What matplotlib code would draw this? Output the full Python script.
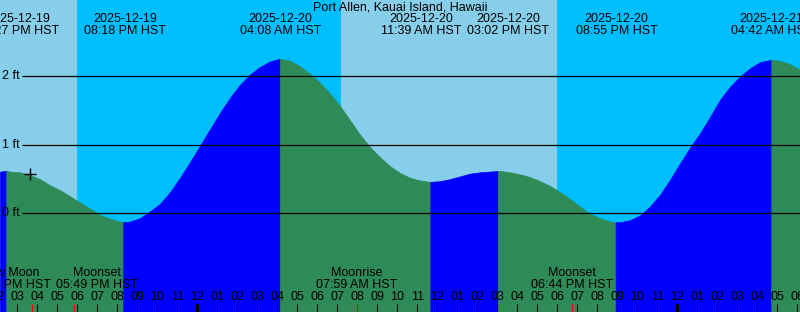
import numpy as np
import matplotlib
matplotlib.use("Agg")
import matplotlib.pyplot as plt
from matplotlib.transforms import blended_transform_factory

# hours are counted from 2025-12-20 00:00 HST
t_start = -9.865
t_end = 30.135

# tide height readings (ft), every half hour from 14:08 Dec 19
curve_ft = [
    0.61, 0.61, 0.60, 0.56, 0.50, 0.41, 0.34, 0.25, 0.16, 0.07,
    -0.02, -0.08, -0.12, -0.12, -0.07, 0.03, 0.14, 0.31, 0.52, 0.75,
    0.99, 1.23, 1.47, 1.69, 1.88, 2.03, 2.14, 2.22, 2.26, 2.23,
    2.15, 2.04, 1.91, 1.75, 1.57, 1.36, 1.15, 0.97, 0.82, 0.69,
    0.59, 0.52, 0.48, 0.46, 0.47, 0.50, 0.54, 0.58, 0.60, 0.61,
    0.62, 0.60, 0.57, 0.53, 0.47, 0.40, 0.31, 0.21, 0.10, -0.01,
    -0.07, -0.12, -0.13, -0.10, -0.03, 0.10, 0.27, 0.49, 0.73, 0.96,
    1.17, 1.41, 1.66, 1.85, 2.00, 2.12, 2.21, 2.24, 2.23, 2.18,
    2.10,
]
curve_t = t_start + 0.5 * np.arange(len(curve_ft))

# high / low tide events
event_t = [-9.55, -3.70, 4.133, 11.65, 15.033, 20.917, 28.70]
event_ft = [0.62, -0.13, 2.26, 0.46, 0.62, -0.13, 2.24]
event_date = ["2025-12-19", "2025-12-19", "2025-12-20", "2025-12-20",
              "2025-12-20", "2025-12-20", "2025-12-21"]
event_time = ["02:27 PM HST", "08:18 PM HST", "04:08 AM HST", "11:39 AM HST",
              "03:02 PM HST", "08:55 PM HST", "04:42 AM HST"]
event_shift = [0.585, 0.08, 0.03, -0.465, 0.5, 0.05, 0.0]

# moon events
moon_t = [-8.283, -6.183, 7.983, 18.733]
moon_name = ["New Moon", "Moonset", "Moonrise", "Moonset"]
moon_time = ["03:43 PM HST", "05:49 PM HST", "07:59 AM HST", "06:44 PM HST"]
moon_shift = [-1.08, 1.17, 0.0, 0.0]

# sunset / sunrise
sun_t = [-6.017, 7.183, 17.967]

now_t, now_ft = -8.365, 0.57

day_col = "#87CEEB"
night_col = "#00BFFF"
rise_col = "#0000FF"
fall_col = "#2E8B57"

plt.rcParams["font.family"] = ["Liberation Sans", "DejaVu Sans"]
fs = 9

fig = plt.figure(figsize=(8, 3.12), dpi=100)
ax = fig.add_axes([0, 0, 1, 1])
ax.set_xlim(t_start, t_end)
ax.set_ylim(-1.442, 3.118)
ax.axis("off")

H = 312.0
def yf(px):
    return 1 - px / H

xt = blended_transform_factory(ax.transData, ax.transAxes)

# day / night background
edges = [t_start] + sun_t + [t_end]
for i in range(len(edges) - 1):
    ax.axvspan(edges[i], edges[i + 1], color=day_col if i % 2 == 0 else night_col,
               lw=0, zorder=0)

# tide curve, coloured by rising / falling
t_all = np.concatenate([curve_t, event_t])
h_all = np.concatenate([curve_ft, event_ft])
order = np.argsort(t_all)
t_all, h_all = t_all[order], h_all[order]

bounds = [t_start] + event_t + [t_end]
for i in range(len(bounds) - 1):
    m = (t_all >= bounds[i]) & (t_all <= bounds[i + 1])
    col = rise_col if i % 2 == 0 else fall_col
    ax.fill_between(t_all[m], h_all[m], -1.442, color=col, lw=0.5,
                    edgecolor=col, zorder=1)

# grid lines and labels
yt = blended_transform_factory(ax.transAxes, ax.transData)
for lev in [0, 1, 2]:
    ax.hlines(lev, 22 / 800, 1, transform=yt, color="black", lw=0.9, zorder=2)
    ax.text(2 / 800, lev, f"{lev} ft", transform=yt, ha="left", va="center",
            fontsize=fs, zorder=3)

ax.plot([now_t], [now_ft], marker="+", color="black", ms=8, mew=1, zorder=3)

# title and tide event labels
ax.text(0.5, yf(7), "Port Allen, Kauai Island, Hawaii", transform=ax.transAxes,
        ha="center", va="center", fontsize=fs)
for t, d, s, sh in zip(event_t, event_date, event_time, event_shift):
    ax.text(t + sh, yf(19.5), d, transform=xt, ha="center", va="center", fontsize=fs)
    ax.text(t + sh, yf(31.5), s, transform=xt, ha="center", va="center", fontsize=fs)

# moon labels
for t, n, s, sh in zip(moon_t, moon_name, moon_time, moon_shift):
    ax.text(t + sh, yf(273), n, transform=xt, ha="center", va="center", fontsize=fs)
    ax.text(t + sh, yf(285.5), s, transform=xt, ha="center", va="center", fontsize=fs)

# hour ticks and labels
hours = np.arange(-10, 31)
for h in hours:
    hod = int(h) % 24
    lab = f"{(hod % 12) or 12:02d}"
    ax.text(h, yf(297.5), lab, transform=xt, ha="center", va="center", fontsize=fs)
    lw = 2.2 if hod == 0 else 0.75
    ax.vlines(h, 0, 8 / H, transform=xt, color="black", lw=lw, zorder=3)
ax.vlines(moon_t, 0, 8 / H, transform=xt, color="red", lw=0.75, zorder=3)

fig.savefig("out.png", dpi=100)
